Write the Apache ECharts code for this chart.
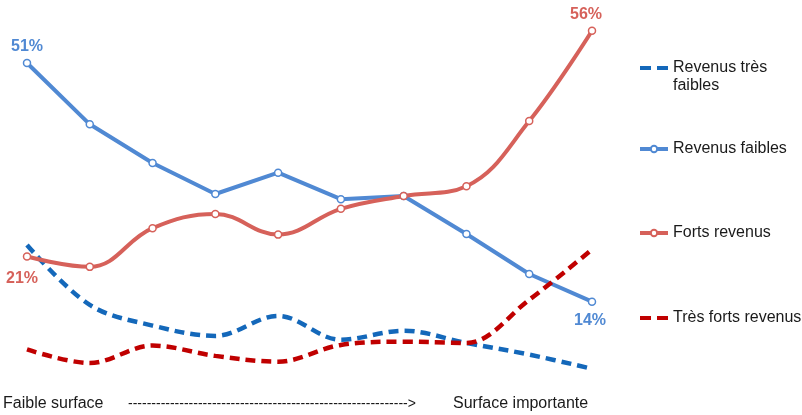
<!DOCTYPE html>
<html>
<head>
<meta charset="utf-8">
<script src="https://cdn.jsdelivr.net/npm/echarts@6/dist/echarts.min.js"></script>
<style>
  html, body { margin: 0; padding: 0; background: #fff; }
  #chart { width: 802px; height: 415px; }
</style>
</head>
<body>
<div id="chart"></div>
<script>
// 10 tranches de surface, de la plus faible à la plus importante
const categories = ['1', '2', '3', '4', '5', '6', '7', '8', '9', '10'];

// parts en %
const tresFaibles = [22.8, 13.5, 10.3, 8.7, 11.8, 8.1, 9.5, 7.6, 5.8, 3.6];
const faibles = [51, 41.5, 35.5, 30.7, 34.0, 29.9, 30.4, 24.5, 18.3, 14];
const forts = [21, 19.4, 25.4, 27.6, 24.4, 28.4, 30.4, 31.9, 42.0, 56];
const tresForts = [6.6, 4.5, 7.2, 5.6, 4.7, 7.3, 7.8, 7.6, 14.3, 22.1];

const seriesNames = ['Revenus très faibles', 'Revenus faibles', 'Forts revenus', 'Très forts revenus'];

const FONT = '"Liberation Sans", Arial, sans-serif';
const BLUE_DASH = '#1468ba';
const BLUE = '#5089d3';
const RED = '#d6615a';
const RED_DASH = '#c00000';
const DASH = [10, 6];
// pictogramme « – – » pour les séries en pointillés
const DASH_ICON = 'path://M0,0h11v4h-11zM17,0h11v4h-11z';

// étiquette sur le premier / dernier point
const withLabels = (values, color, first, last) => values.map((v, i) => {
  const cfg = i === 0 ? first : (i === values.length - 1 ? last : null);
  if (!cfg) return v;
  return {
    value: v,
    label: {
      show: true,
      position: cfg.position,
      offset: cfg.offset,
      formatter: Math.round(v) + '%',
      color: color,
      fontFamily: FONT,
      fontWeight: 'bold',
      fontSize: 16
    }
  };
});

const chart = echarts.init(document.getElementById('chart'));

const legendBase = {
  left: 640,
  orient: 'vertical',
  padding: 0,
  itemWidth: 28,
  itemHeight: 8,
  lineStyle: { width: 4 },
  textStyle: { fontFamily: FONT, fontSize: 16, color: '#1a1a1a', lineHeight: 18 }
};

const option = {
  backgroundColor: '#fff',
  animation: false,
  grid: { left: 27, right: 210, top: 5, bottom: 23 },
  xAxis: {
    type: 'category',
    data: categories,
    boundaryGap: false,
    show: false
  },
  yAxis: {
    type: 'value',
    min: 0,
    max: 60,
    show: false
  },
  legend: [
    Object.assign({}, legendBase, {
      top: 41,
      itemHeight: 4,
      data: [{ name: seriesNames[0], icon: DASH_ICON }],
      // ligne vide en tête pour aligner la première ligne sur le pictogramme
      formatter: () => '\nRevenus très\nfaibles'
    }),
    Object.assign({}, legendBase, { left: 638, top: 140, data: [seriesNames[1]] }),
    Object.assign({}, legendBase, { left: 638, top: 224, data: [seriesNames[2]] }),
    Object.assign({}, legendBase, {
      top: 309,
      itemHeight: 4,
      data: [{ name: seriesNames[3], icon: DASH_ICON }]
    })
  ],
  series: [
    {
      name: seriesNames[0],
      type: 'line',
      data: tresFaibles,
      smooth: 0.35,
      showSymbol: false,
      symbol: 'none',
      lineStyle: { color: BLUE_DASH, width: 4.5, type: DASH },
      itemStyle: { color: BLUE_DASH }
    },
    {
      name: seriesNames[1],
      type: 'line',
      data: withLabels(faibles, BLUE,
        { position: 'top', offset: [0, 1] },
        { position: 'bottom', offset: [-2, 2] }),
      smooth: false,
      symbol: 'circle',
      symbolSize: 7,
      lineStyle: { color: BLUE, width: 4 },
      itemStyle: { color: '#fff', borderColor: BLUE, borderWidth: 1.5 }
    },
    {
      name: seriesNames[2],
      type: 'line',
      data: withLabels(forts, RED,
        { position: 'bottom', offset: [-5, 5] },
        { position: 'top', offset: [-6, 1] }),
      smooth: 0.4,
      symbol: 'circle',
      symbolSize: 7,
      lineStyle: { color: RED, width: 4 },
      itemStyle: { color: '#fff', borderColor: RED, borderWidth: 1.5 }
    },
    {
      name: seriesNames[3],
      type: 'line',
      data: tresForts,
      smooth: 0.35,
      showSymbol: false,
      symbol: 'none',
      lineStyle: { color: RED_DASH, width: 4.5, type: DASH },
      itemStyle: { color: RED_DASH }
    }
  ],
  graphic: [
    {
      type: 'text', left: 3, top: 396,
      style: { text: 'Faible surface', font: '16px ' + FONT, fill: '#1a1a1a' }
    },
    {
      type: 'text', left: 128, top: 397,
      style: { text: '-'.repeat(60) + '>', font: '14px ' + FONT, fill: '#1a1a1a' }
    },
    {
      type: 'text', left: 453, top: 396,
      style: { text: 'Surface importante', font: '16px ' + FONT, fill: '#1a1a1a' }
    }
  ]
};

chart.setOption(option);
</script>
</body>
</html>
